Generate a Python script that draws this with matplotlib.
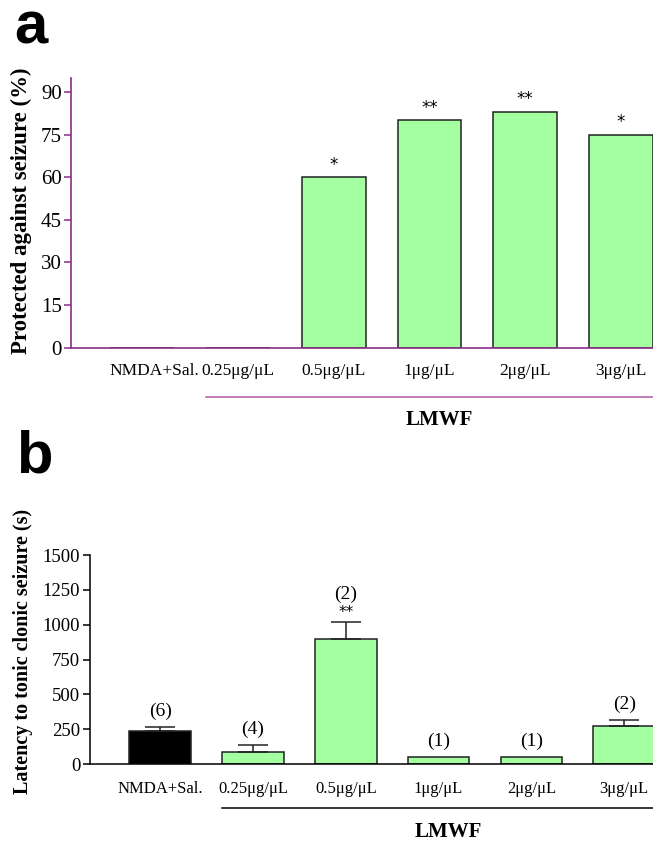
import numpy as np
import matplotlib
matplotlib.use("Agg")
import matplotlib.pyplot as plt
import matplotlib.transforms as mtransforms

plt.rcParams['font.family'] = ['Liberation Serif', 'DejaVu Serif']

# data
groups = ["NMDA+Sal.", "0.25μg/μL", "0.5μg/μL", "1μg/μL", "2μg/μL", "3μg/μL"]
protected = [0, 0, 60, 80, 83, 75]
protected_sig = ["", "", "*", "**", "**", "*"]

latency = [240, 85, 895, 55, 55, 276]
latency_sem = [29, 53, 122, 0, 0, 39]
latency_n = ["(6)", "(4)", "(2)", "(1)", "(1)", "(2)"]
latency_sig = ["", "", "**", "", "", ""]

green = '#a4ffa0'
purple = '#8a2d86'
pink = '#b35aa6'
W, H = 653, 843

fig = plt.figure(figsize=(W / 100, H / 100), dpi=100)
x = np.arange(len(groups))


def px_box(left, right, top, bottom):
    return [left / W, 1 - bottom / H, (right - left) / W, (bottom - top) / H]


# ---- panel a ----
ax1 = fig.add_axes(px_box(70.7, 653, 77.8, 347.5))
ax1.bar(x, protected, width=0.665, color=green, edgecolor='#222222', linewidth=1.1)
ax1.set_xlim(-0.745, 5.333)
ax1.set_ylim(0, 95)
ax1.set_yticks(np.arange(0, 91, 15))
for s in ['top', 'right']:
    ax1.spines[s].set_visible(False)
for s in ['left', 'bottom']:
    ax1.spines[s].set_color(purple)
    ax1.spines[s].set_linewidth(1.2)
ax1.tick_params(axis='y', direction='out', length=4.7, width=1.1, color=purple,
                labelsize=15, pad=1.5)
ax1.set_xticks(x, groups)
ax1.tick_params(axis='x', length=0, labelsize=12.5, pad=11)
# first label sits a bit right of its bar in the original
lab0 = ax1.get_xticklabels()[0]
lab0.set_transform(lab0.get_transform() +
                   mtransforms.ScaledTranslation(12 / 100, 0, fig.dpi_scale_trans))
for xi, v, s in zip(x, protected, protected_sig):
    if s:
        ax1.annotate(s, (xi, v), xytext=(0, 9), textcoords='offset points',
                     ha='center', va='center', fontsize=12, family='DejaVu Sans')
ax1.plot([1 - 0.335, 5.6], [-0.182, -0.182], transform=ax1.get_xaxis_transform(),
         color=pink, lw=1.1, clip_on=False)
ax1.text(3.1, -0.269, "LMWF", transform=ax1.get_xaxis_transform(), ha='center',
         va='center', fontsize=15, fontweight='bold')
fig.text(21 / W, 1 - 211 / H, "Protected against seizure (%)", rotation=90,
         ha='center', va='center', fontsize=16.5, fontweight='bold')
fig.text(14 / W, 1 - 43.3 / H, "a", fontsize=43, fontweight='bold',
         family='Liberation Sans', ha='left', va='baseline')

# ---- panel b ----
ax2 = fig.add_axes(px_box(90, 653, 555, 764.2))
bar_colors = ['black'] + [green] * (len(groups) - 1)
ax2.bar(x, latency, width=0.665, color=bar_colors, edgecolor='#222222', linewidth=1.1)
has_err = [i for i in x if latency_sem[i] > 0]
ax2.errorbar([x[i] for i in has_err], [latency[i] for i in has_err],
             yerr=[[0] * len(has_err), [latency_sem[i] for i in has_err]],
             fmt='none', ecolor='#222222', elinewidth=1.1, capsize=11, capthick=1.1)
ax2.set_xlim(-0.756, 5.31)
ax2.set_ylim(0, 1500)
ax2.set_yticks(np.arange(0, 1501, 250))
for s in ['top', 'right']:
    ax2.spines[s].set_visible(False)
for s in ['left', 'bottom']:
    ax2.spines[s].set_linewidth(1.1)
ax2.tick_params(axis='y', direction='out', length=5, width=1.1, labelsize=13.5, pad=2)
ax2.set_xticks(x, groups)
ax2.tick_params(axis='x', length=0, labelsize=12, pad=12)
for xi, v, e, n, s in zip(x, latency, latency_sem, latency_n, latency_sig):
    top = v + e
    if s:
        ax2.annotate(s, (xi, top), xytext=(0, 7), textcoords='offset points',
                     ha='center', va='center', fontsize=11, family='DejaVu Sans')
        ax2.annotate(n, (xi, top), xytext=(0, 20.5), textcoords='offset points',
                     ha='center', va='center', fontsize=14)
    else:
        ax2.annotate(n, (xi, top), xytext=(0, 5), textcoords='offset points',
                     ha='center', va='bottom', fontsize=14)
ax2.plot([1 - 0.335, 5.6], [-0.209, -0.209], transform=ax2.get_xaxis_transform(),
         color='black', lw=1.1, clip_on=False)
ax2.text(3.1, -0.323, "LMWF", transform=ax2.get_xaxis_transform(), ha='center',
         va='center', fontsize=15, fontweight='bold')
fig.text(23 / W, 1 - 651 / H, "Latency to tonic clonic seizure (s)", rotation=90,
         ha='center', va='center', fontsize=14.5, fontweight='bold')
fig.text(16 / W, 1 - 472.7 / H, "b", fontsize=43, fontweight='bold',
         family='Liberation Sans', ha='left', va='baseline')

fig.savefig("out.png", dpi=100)
